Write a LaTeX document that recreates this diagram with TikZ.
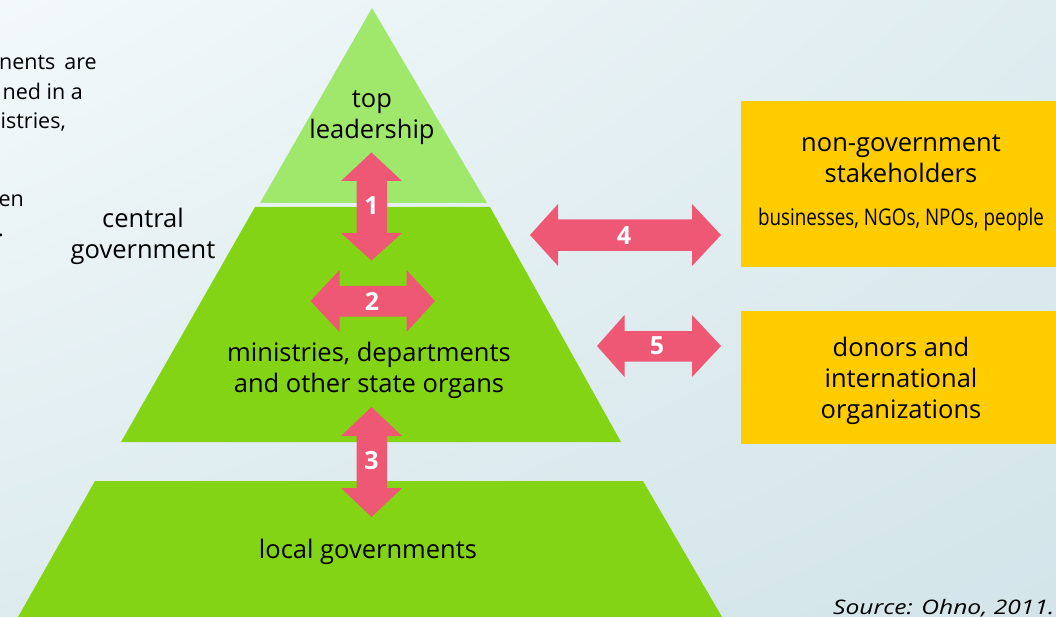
\documentclass[tikz,border=0pt]{standalone}
\usepackage{fontspec}
\setmainfont{Open Sans}
\usepackage{graphicx}
\usetikzlibrary{shadings}
\definecolor{bgA}{HTML}{F3F9FB}
\definecolor{bgB}{HTML}{DFECF0}
\definecolor{bgC}{HTML}{DDEBEF}
\definecolor{bgD}{HTML}{D3E5EA}
\definecolor{topgreen}{HTML}{A0E86C}
\definecolor{midgreen}{HTML}{84D416}
\definecolor{arrowred}{HTML}{EE5874}
\definecolor{boxyellow}{HTML}{FFCC00}
\tikzset{
  arrowfill/.style={fill=arrowred},
  numlabel/.style={text=white, font=\fontsize{25}{28}\selectfont\bfseries, inner sep=0pt},
  lbl/.style={align=center, inner sep=0pt, font=\fontsize{25.5}{31}\selectfont},
  frag/.style={anchor=base east, inner sep=0pt, font=\fontsize{21.5}{24}\selectfont},
}
\begin{document}
\begin{tikzpicture}[x=1pt,y=-1pt]
\useasboundingbox (0,0) rectangle (1056,617);
\shade[upper left=bgA, upper right=bgB, lower left=bgC, lower right=bgD] (0,0) rectangle (1056,617);

% pyramid
\fill[topgreen] (372,8) -- (487,203) -- (260,203) -- cycle;
\fill[midgreen] (255,207) -- (490,207) -- (621,442) -- (121,442) -- cycle;
\fill[midgreen] (95,481) -- (643,481) -- (722,617) -- (18,617) -- cycle;

% yellow boxes
\fill[boxyellow] (741,101) rectangle (1056,267);
\fill[boxyellow] (741,311) rectangle (1056,444);

% texts
\node[lbl] (top) at (372,118) {top\\leadership};
\node[lbl] (central) at (143,236) {central\\government};
\node[lbl] (min) at (369,370.5) {ministries, departments\\and other state organs};
\node[lbl] (local) at (368,552) {local governments};
\node[lbl] (ngo) at (901,159) {non-government\\stakeholders};
\node[inner sep=0pt, font=\fontsize{23}{26}\selectfont] (biz) at (901,220) {\resizebox{286pt}{\height}{businesses, NGOs, NPOs, people}};
\node[lbl] (donors) at (901,381) {donors and\\international\\organizations};
\node[anchor=base west, inner sep=0pt, font=\fontsize{20}{24}\selectfont\itshape] (src) at (833,614) {\resizebox{221pt}{\height}{Source: Ohno, 2011.}};

% left paragraph fragments
\node[frag] (f1) at (97,70) {nents\hspace{9pt}are};
\node[frag] (f2) at (83,100) {ned in a};
\node[frag] (f3) at (66,129) {istries,};
\node[frag] (f4) at (24,207) {en};
\node[frag] (f5) at (4,237) {.};

% arrows
\fill[arrowfill] (371.5,152.5) -- (402,181) -- (387,181) -- (387,233) -- (402,233) -- (371.5,260.5) -- (341,233) -- (356.5,233) -- (356.5,181) -- (341,181) -- cycle;
\fill[arrowfill] (310.5,301) -- (339.5,270) -- (339.5,286) -- (406.5,286) -- (406.5,270) -- (435,301) -- (406.5,332) -- (406.5,316.5) -- (339.5,316.5) -- (339.5,332) -- cycle;
\fill[arrowfill] (371.5,407) -- (402,436) -- (387,436) -- (387,488) -- (402,488) -- (371.5,517) -- (341,488) -- (356.5,488) -- (356.5,436) -- (341,436) -- cycle;
\fill[arrowfill] (530,235) -- (558,204) -- (558,219.5) -- (692,219.5) -- (692,204) -- (721,235) -- (692,266) -- (692,251) -- (558,251) -- (558,266) -- cycle;
\fill[arrowfill] (597,346) -- (624.5,315) -- (624.5,331) -- (692,331) -- (692,315) -- (721,346) -- (692,377) -- (692,361.5) -- (624.5,361.5) -- (624.5,377) -- cycle;

\node[numlabel] (n1) at (371.5,206) {1};
\node[numlabel] (n2) at (372,301) {2};
\node[numlabel] (n3) at (371.5,461) {3};
\node[numlabel] (n4) at (624,236) {4};
\node[numlabel] (n5) at (657,346) {5};
\end{tikzpicture}
\end{document}
